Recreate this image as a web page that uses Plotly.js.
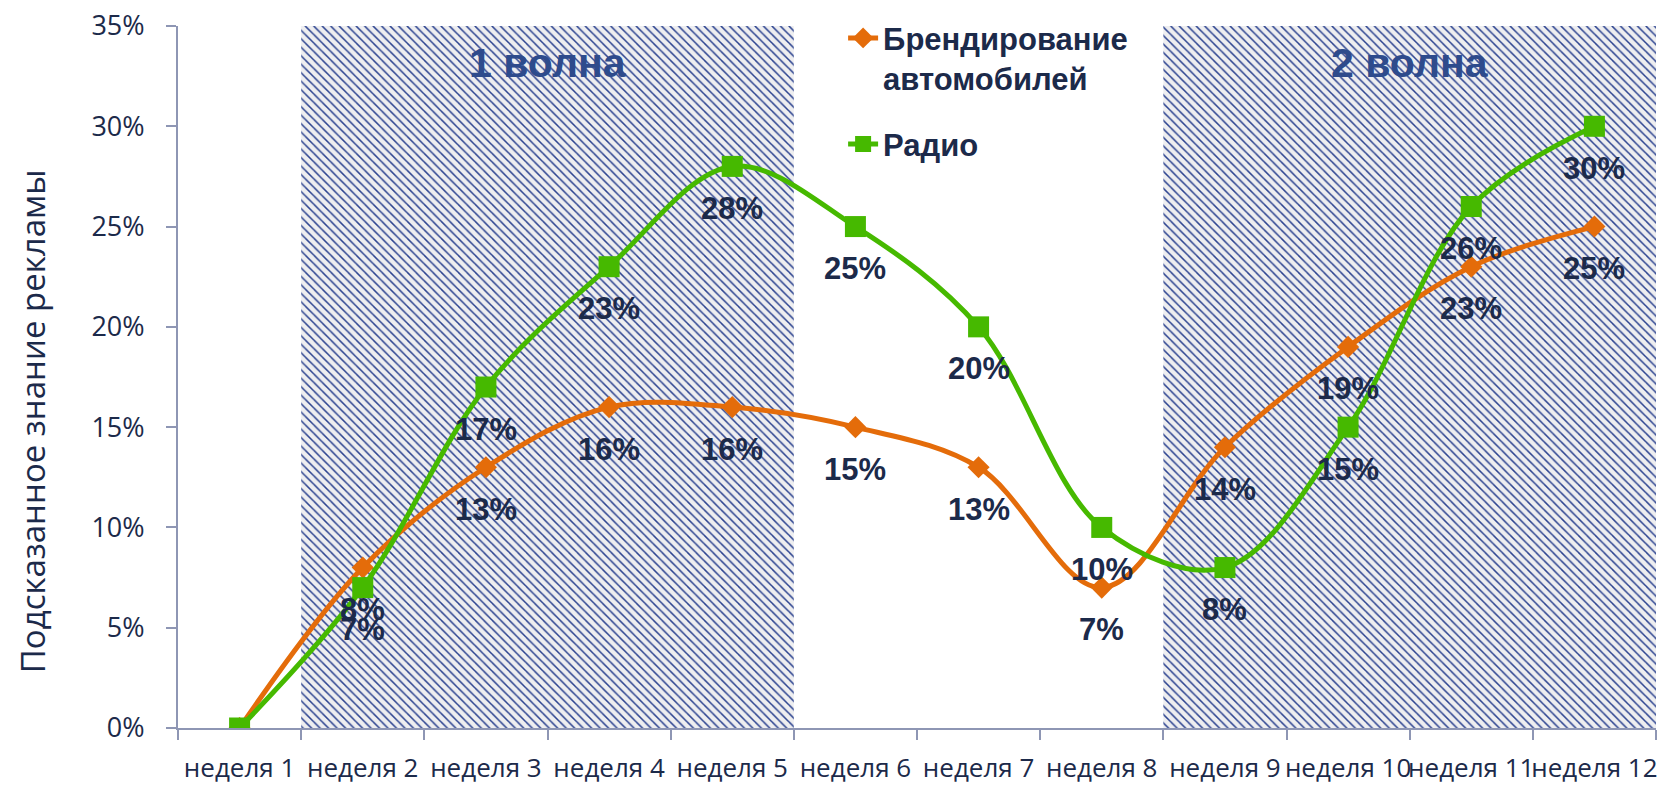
<!DOCTYPE html>
<html>
<head>
<meta charset="utf-8">
<script src="https://cdn.plot.ly/plotly-3.0.1.min.js"></script>
<style>html,body{margin:0;padding:0;background:#fff;}#chart{width:1667px;height:786px;}</style>
</head>
<body>
<div id="chart"></div>
<script>
const weeks = ['неделя 1','неделя 2','неделя 3','неделя 4','неделя 5','неделя 6','неделя 7','неделя 8','неделя 9','неделя 10','неделя 11','неделя 12'];
const brandingValues = [0, 0.08, 0.13, 0.16, 0.16, 0.15, 0.13, 0.07, 0.14, 0.19, 0.23, 0.25];
const radioValues = [0, 0.07, 0.17, 0.23, 0.28, 0.25, 0.20, 0.10, 0.08, 0.15, 0.26, 0.30];
const seriesNames = ['Брендирование<br>автомобилей', 'Радио'];
const waveLabels = ['1 волна', '2 волна'];
const waveStartWeeks = ['неделя 2', 'неделя 9'];
const waveLengths = [4, 4];
const waveHeights = [0.35, 0.35];

const navy = '#1c2a4a';
const axisColor = '#8e96b4';
const orange = '#E46C0A';
const green = '#46B900';

const traces = [
  {
    type: 'bar', x: waveStartWeeks, y: waveHeights, width: waveLengths, offset: -0.5,
    marker: {color: '#eeeef0', line: {width: 0},
      pattern: {shape: '\\', fgcolor: '#2c4390', bgcolor: '#eeeef0', size: 6, solidity: 0.25, fillmode: 'replace'}},
    showlegend: false, hoverinfo: 'skip'
  },
  {
    type: 'scatter', mode: 'lines+markers', name: seriesNames[0], x: weeks, y: brandingValues,
    line: {color: orange, width: 5, shape: 'spline', smoothing: 1},
    marker: {symbol: 'diamond', size: 17, color: orange},
    legend: 'legend'
  },
  {
    type: 'scatter', mode: 'lines+markers', name: seriesNames[1], x: weeks, y: radioValues,
    line: {color: green, width: 5, shape: 'spline', smoothing: 1},
    marker: {symbol: 'square', size: 21, color: green},
    legend: 'legend2'
  }
];

const annotations = [];
[brandingValues, radioValues].forEach(vals => {
  vals.forEach((v, i) => {
    if (v === 0) return;
    annotations.push({
      x: weeks[i], y: v, xref: 'x', yref: 'y', yshift: -42, showarrow: false,
      xanchor: 'center', yanchor: 'middle',
      text: Math.round(v * 100) + '%',
      font: {family: 'Liberation Sans, Arial, sans-serif', size: 31, weight: 'bold', color: navy}
    });
  });
});
const wavePaperX = [0.25, 0.8333];
waveLabels.forEach((t, i) => {
  annotations.push({
    x: wavePaperX[i], y: 0.9475, xref: 'paper', yref: 'paper', showarrow: false, text: t,
    xanchor: 'center', yanchor: 'middle',
    font: {family: 'Liberation Sans, Arial, sans-serif', size: 41, weight: 'bold', color: '#2e4b8c'}
  });
});
annotations.push({
  x: -0.0988, y: 0.437, xref: 'paper', yref: 'paper', showarrow: false, textangle: -90,
  xanchor: 'center', yanchor: 'middle',
  text: 'Подсказанное знание рекламы',
  font: {family: 'Open Sans, sans-serif', size: 33, color: navy}
});

const legendFont = {family: 'Liberation Sans, Arial, sans-serif', size: 31, weight: 'bold', color: navy};
const layout = {
  width: 1667, height: 786,
  margin: {l: 178, r: 11, t: 24, b: 58},
  paper_bgcolor: '#ffffff', plot_bgcolor: '#ffffff',
  xaxis: {
    type: 'category', categoryorder: 'array', categoryarray: weeks, range: [-0.5, 11.5],
    tickson: 'boundaries', ticks: 'outside', ticklen: 10, tickwidth: 2, tickcolor: axisColor,
    showline: true, linecolor: axisColor, linewidth: 2, showgrid: false, zeroline: false,
    tickangle: 0,
    tickfont: {family: 'Open Sans, sans-serif', size: 26, color: navy}, ticklabelstandoff: 16
  },
  yaxis: {
    range: [0, 0.35], dtick: 0.05, tickformat: '.0%',
    ticks: 'outside', ticklen: 10, tickwidth: 2, tickcolor: axisColor,
    showline: true, linecolor: axisColor, linewidth: 2, showgrid: false, zeroline: false,
    tickfont: {family: 'Open Sans, sans-serif', size: 27, color: navy}, ticklabelstandoff: 16
  },
  legend: {x: 0.45, y: 1.021, xanchor: 'left', yanchor: 'top', bgcolor: 'rgba(0,0,0,0)', font: legendFont, valign: 'top'},
  legend2: {x: 0.45, y: 0.87, xanchor: 'left', yanchor: 'top', bgcolor: 'rgba(0,0,0,0)', font: legendFont, valign: 'top'},
  annotations: annotations,
  showlegend: true,
  hovermode: false
};

Plotly.newPlot('chart', traces, layout, {displayModeBar: false, staticPlot: true});
</script>
</body>
</html>
